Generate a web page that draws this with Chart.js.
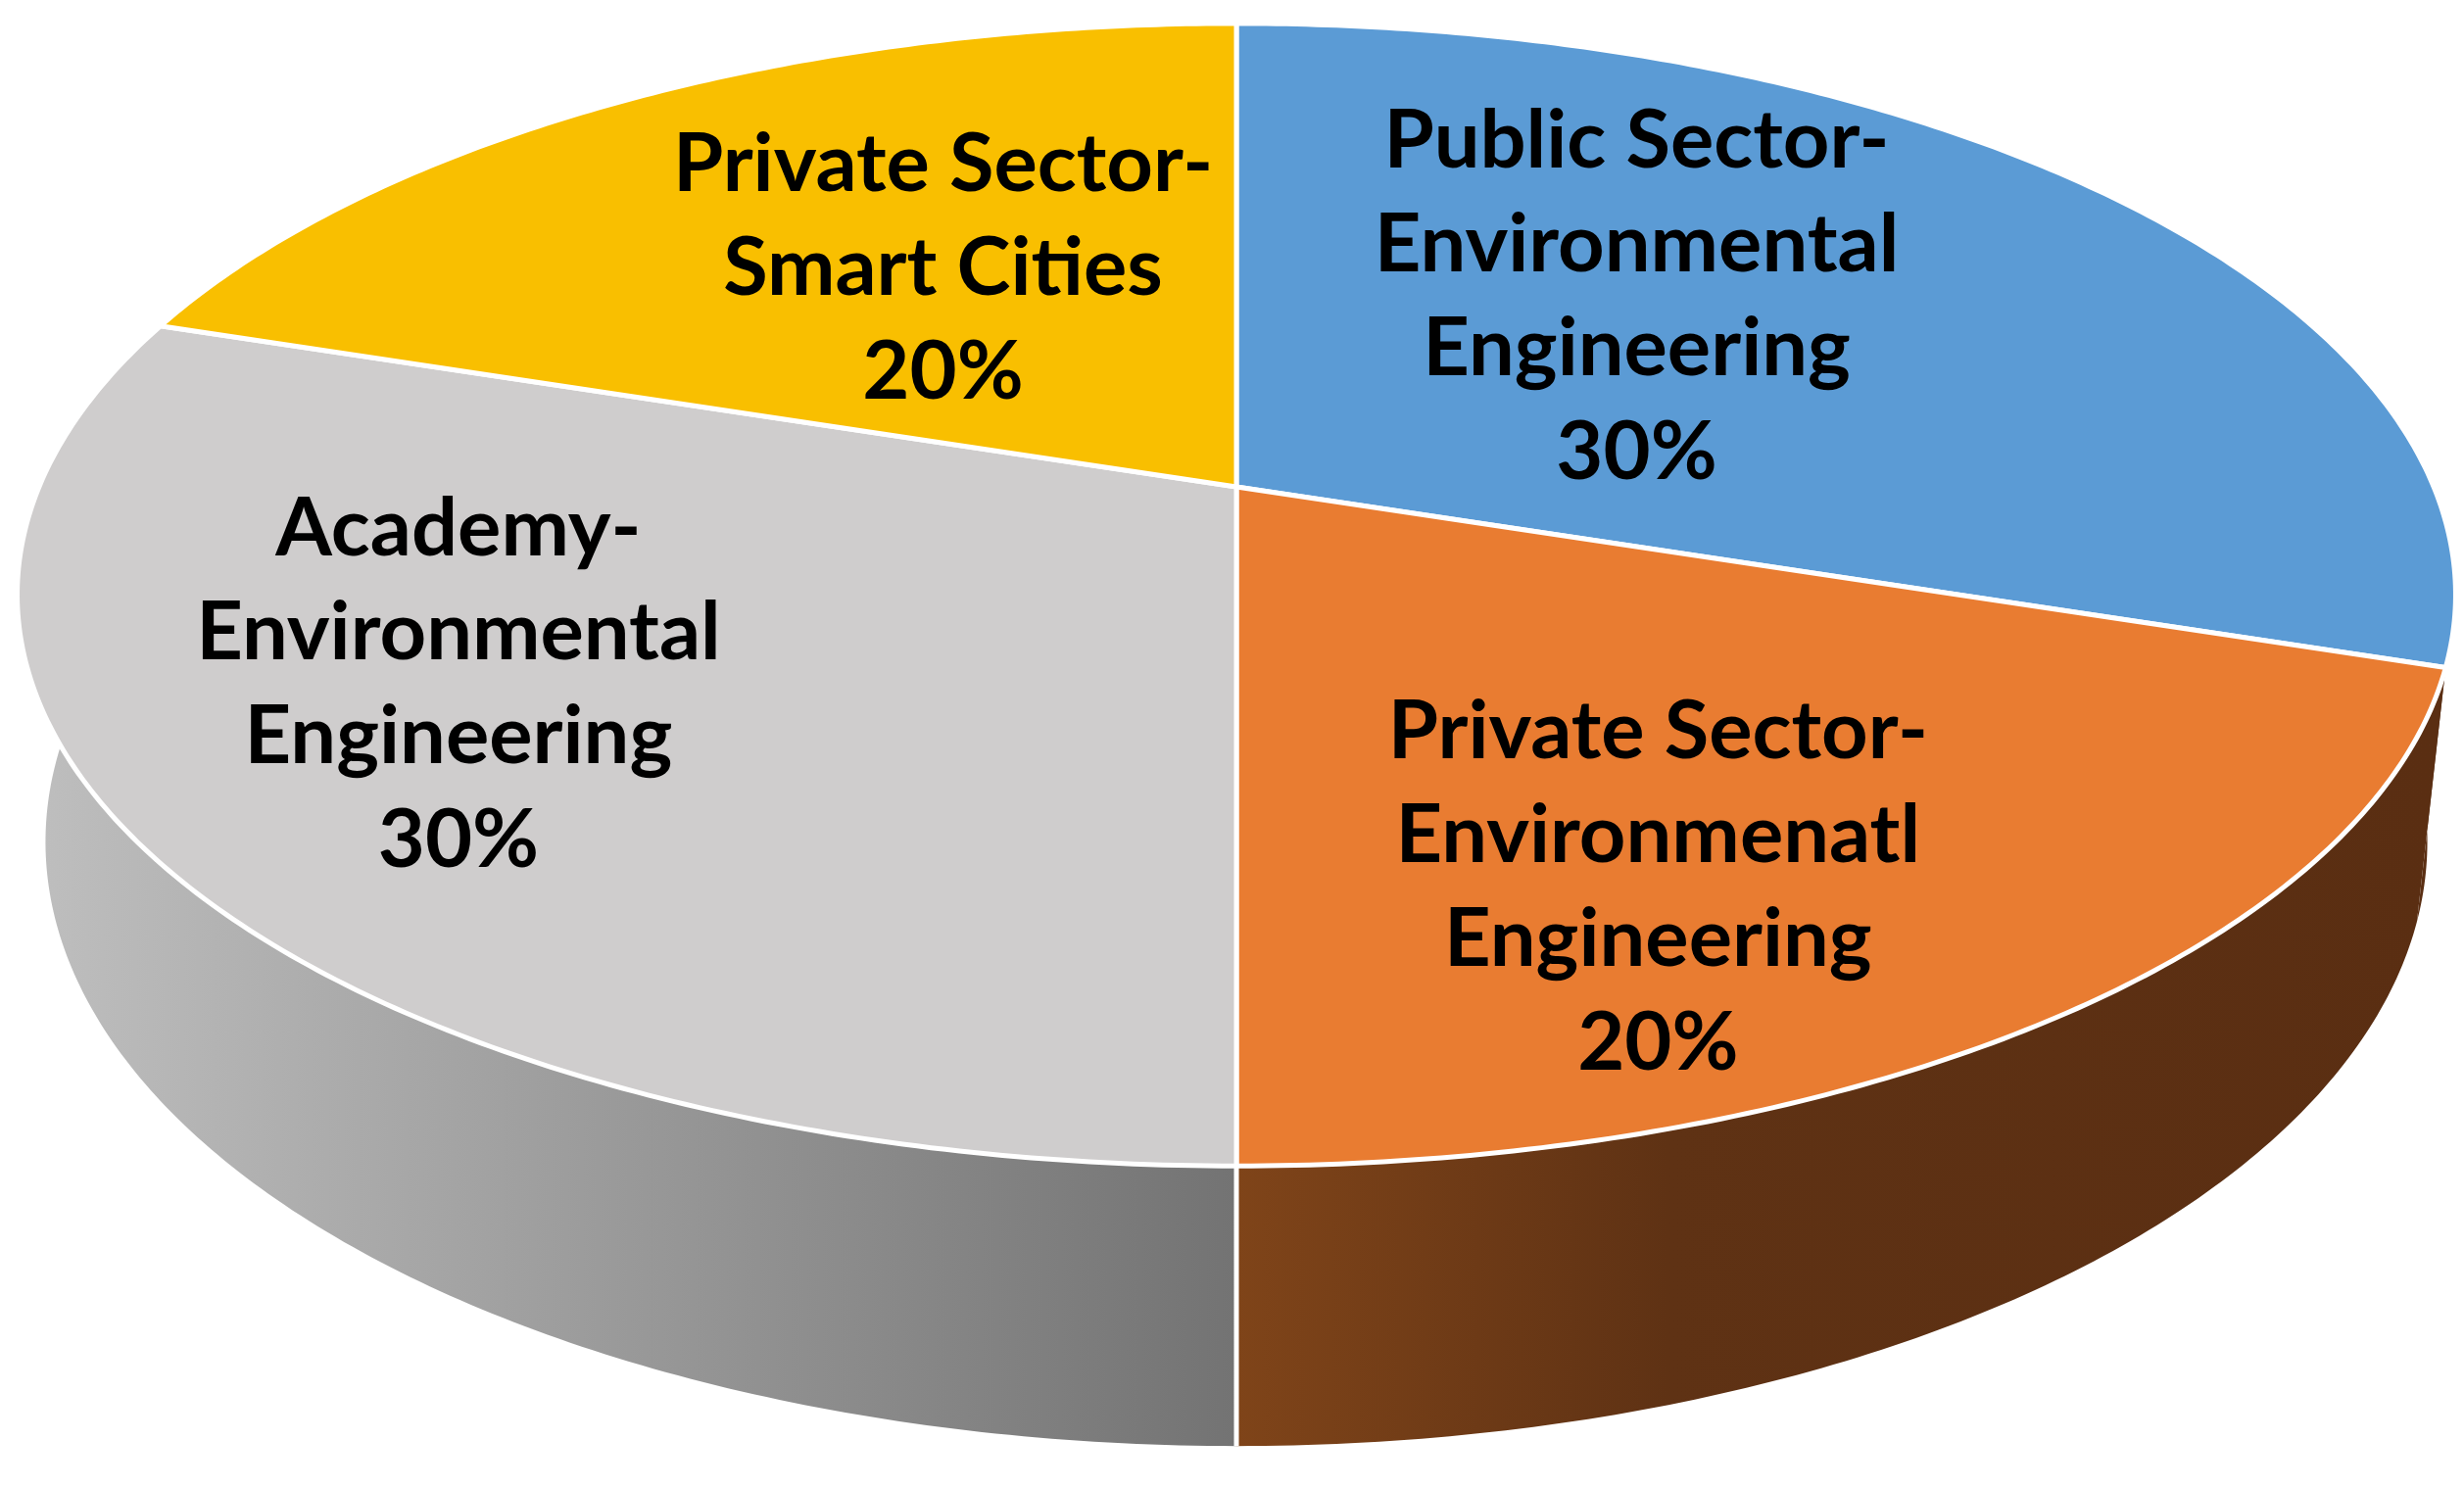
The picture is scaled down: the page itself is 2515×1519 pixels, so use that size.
<!DOCTYPE html>
<html>
<head>
<meta charset="utf-8">
<script src="https://cdn.jsdelivr.net/npm/chart.js@4.4.1/dist/chart.umd.min.js"></script>
<style>
  html, body { margin: 0; background: #fff; }
  #wrap { width: 2515px; height: 1519px; }
</style>
</head>
<body>
<div id="wrap"><canvas id="chart-pie" width="2515" height="1519"></canvas></div>
<script>
// ── Data ──────────────────────────────────────────────────────
const categories = [
  ['Public Sector-', 'Environmental', 'Engineering'],
  ['Private Sector-', 'Environmenatl', 'Engineering'],
  ['Academy-', 'Environmental', 'Engineering'],
  ['Private Sector-', 'Smart Cities']
];
const shares = [30, 20, 30, 20];

// ── Styles ────────────────────────────────────────────────────
const TOP_COLORS = ['#5b9bd5', '#e97c31', '#cfcdcd', '#f9bf00'];
// side wall shading, stops along the pie width (left → right)
const SIDE_STOPS = [
  [[0, '#5a2e12'], [1, '#5a2e12']],
  [[0, '#9a5523'], [0.5, '#7f4419'], [0.68, '#5f3214'], [1, '#5a2e12']],
  [[0, '#bebebe'], [0.5, '#737373'], [1, '#555555']],
  [[0, '#a37c00'], [1, '#7d5f00']]
];
// label nudges from the projected slice anchor
const LABEL_NUDGE = [[-104, -22], [-1, 136], [-215, 9], [65, 8]];
const FONT = "bold 83px Lato, 'Open Sans', sans-serif";
const LINE_H = 106;

// camera: tilt in radians, dist / depth in pie radii, focal in px
const CAM = { tilt: 27.4 * Math.PI / 180, dist: 4.705, depth: 0.2345, focal: 5750, cy: 497 };

function project(cx, a, r, z) {
  const X = r * Math.cos(a), v = r * Math.sin(a);
  const h = z * CAM.depth;
  const sa = Math.sin(CAM.tilt), ca = Math.cos(CAM.tilt);
  const w = CAM.dist - v * ca + h * sa;
  return [cx + CAM.focal * X / w, CAM.cy + CAM.focal * (v * sa + h * ca) / w];
}

function rimPoints(cx, a0, a1, z) {
  const n = Math.max(2, Math.ceil((a1 - a0) / 0.01));
  const pts = [];
  for (let i = 0; i <= n; i++) pts.push(project(cx, a0 + (a1 - a0) * i / n, 1, z));
  return pts;
}

// ── 3D pie plugin: draws the arc elements in perspective ──────
const pie3d = {
  id: 'pie3d',
  beforeDatasetsDraw(chart) {
    const ctx = chart.ctx;
    const arcs = chart.getDatasetMeta(0).data;
    const cx = arcs[0].x;
    const xl = project(cx, Math.PI, 1, 0)[0];
    const xr = project(cx, 0, 1, 0)[0];

    ctx.save();
    ctx.lineJoin = 'round';

    // side walls (front half only)
    arcs.forEach((arc, i) => {
      const lo = Math.max(arc.startAngle, 0);
      const hi = Math.min(arc.endAngle, Math.PI);
      if (hi <= lo) return;
      const top = rimPoints(cx, lo, hi, 0);
      const bot = rimPoints(cx, lo, hi, 1).reverse();
      const g = ctx.createLinearGradient(xl, 0, xr, 0);
      SIDE_STOPS[i].forEach(s => g.addColorStop(s[0], s[1]));
      ctx.beginPath();
      top.concat(bot).forEach((p, k) => k ? ctx.lineTo(p[0], p[1]) : ctx.moveTo(p[0], p[1]));
      ctx.closePath();
      ctx.fillStyle = g;
      ctx.fill();
    });

    // seams on the side wall (only where the wall faces the viewer)
    ctx.strokeStyle = '#ffffff';
    ctx.lineWidth = 5;
    arcs.forEach(arc => {
      const a = arc.startAngle;
      if (Math.sin(a) < 0.5) return;
      const p = project(cx, a, 1, 0), q = project(cx, a, 1, 1);
      ctx.beginPath();
      ctx.moveTo(p[0], p[1]);
      ctx.lineTo(q[0], q[1]);
      ctx.stroke();
    });

    // top face
    arcs.forEach((arc, i) => {
      const c = project(cx, 0, 0, 0);
      const rim = rimPoints(cx, arc.startAngle, arc.endAngle, 0);
      ctx.beginPath();
      ctx.moveTo(c[0], c[1]);
      rim.forEach(p => ctx.lineTo(p[0], p[1]));
      ctx.closePath();
      ctx.fillStyle = TOP_COLORS[i];
      ctx.fill();
      ctx.lineWidth = 5;
      ctx.strokeStyle = '#ffffff';
      ctx.stroke();
    });

    // data labels
    const total = shares.reduce((s, v) => s + v, 0);
    ctx.font = FONT;
    ctx.fillStyle = '#000000';
    ctx.textAlign = 'center';
    ctx.textBaseline = 'middle';
    arcs.forEach((arc, i) => {
      const mid = (arc.startAngle + arc.endAngle) / 2;
      const p = project(cx, mid, 0.55, 0);
      const x = p[0] + LABEL_NUDGE[i][0];
      const y = p[1] + LABEL_NUDGE[i][1];
      const lines = categories[i].concat([Math.round(shares[i] / total * 100) + '%']);
      lines.forEach((t, k) => {
        ctx.fillText(t, x, y + (k - (lines.length - 1) / 2) * LINE_H);
      });
    });

    ctx.restore();
    return false;
  }
};

new Chart(document.getElementById('chart-pie'), {
  type: 'pie',
  data: {
    labels: categories.map(c => c.join(' ')),
    datasets: [{
      data: shares,
      backgroundColor: TOP_COLORS,
      borderColor: '#ffffff',
      borderWidth: 5
    }]
  },
  options: {
    responsive: false,
    animation: false,
    layout: { padding: { left: 9 } },
    plugins: {
      legend: { display: false },
      tooltip: { enabled: false }
    }
  },
  plugins: [pie3d]
});
</script>
</body>
</html>
